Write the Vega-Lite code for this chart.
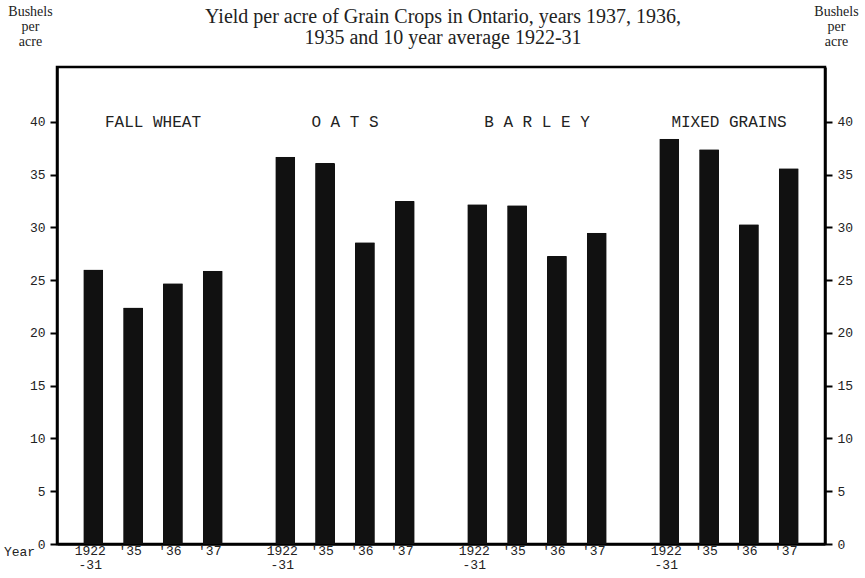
{
  "$schema": "https://vega.github.io/schema/vega-lite/v6.json",
  "width": 768,
  "height": 477,
  "autosize": "none",
  "padding": {"left": 57, "top": 67, "right": 40, "bottom": 34},
  "background": "white",
  "config": {
    "view": {"stroke": "black", "strokeWidth": 2.5},
    "axis": {"domainColor": "black", "domainWidth": 2.5, "tickColor": "black", "tickWidth": 2, "labelColor": "#222", "labelFont": "Liberation Mono", "labelFontSize": 13, "grid": false}
  },
  "title": {
    "text": ["Yield per acre of Grain Crops in Ontario, years 1937, 1936,", "1935 and 10 year average 1922-31"],
    "font": "Liberation Serif", "fontSize": 20, "fontWeight": "normal", "color": "#222",
    "anchor": "middle", "frame": "group", "offset": -44, "lineHeight": 21, "dx": 2
  },
  "datasets": {
    "bars": [
      {"crop": "Fall Wheat", "year": "1922-31", "label": "1922\n-31", "yield": 26.0},
      {"crop": "Fall Wheat", "year": "1935", "label": "'35", "yield": 22.4},
      {"crop": "Fall Wheat", "year": "1936", "label": "'36", "yield": 24.7},
      {"crop": "Fall Wheat", "year": "1937", "label": "'37", "yield": 25.9},
      {"crop": "Oats", "year": "1922-31", "label": "1922\n-31", "yield": 36.7},
      {"crop": "Oats", "year": "1935", "label": "'35", "yield": 36.1},
      {"crop": "Oats", "year": "1936", "label": "'36", "yield": 28.6},
      {"crop": "Oats", "year": "1937", "label": "'37", "yield": 32.5},
      {"crop": "Barley", "year": "1922-31", "label": "1922\n-31", "yield": 32.2},
      {"crop": "Barley", "year": "1935", "label": "'35", "yield": 32.1},
      {"crop": "Barley", "year": "1936", "label": "'36", "yield": 27.3},
      {"crop": "Barley", "year": "1937", "label": "'37", "yield": 29.5},
      {"crop": "Mixed Grains", "year": "1922-31", "label": "1922\n-31", "yield": 38.4},
      {"crop": "Mixed Grains", "year": "1935", "label": "'35", "yield": 37.4},
      {"crop": "Mixed Grains", "year": "1936", "label": "'36", "yield": 30.3},
      {"crop": "Mixed Grains", "year": "1937", "label": "'37", "yield": 35.6}
    ],
    "crops": [
      {"crop": "Fall Wheat", "label": "FALL WHEAT"},
      {"crop": "Oats", "label": "O A T S"},
      {"crop": "Barley", "label": "B A R L E Y"},
      {"crop": "Mixed Grains", "label": "MIXED GRAINS"}
    ]
  },
  "resolve": {"axis": {"y": "independent"}},
  "layer": [
    {
      "data": {"name": "bars"},
      "mark": {"type": "bar", "color": "#111", "cornerRadius": 1},
      "encoding": {
        "x": {
          "field": "crop", "type": "nominal",
          "sort": ["Fall Wheat", "Oats", "Barley", "Mixed Grains"],
          "scale": {"paddingInner": 0.17, "paddingOuter": 0.085},
          "axis": {"labels": false, "ticks": false, "title": "Year", "titleFont": "Liberation Mono", "titleFontSize": 13, "titleFontWeight": "normal", "titleColor": "#222", "titleX": -38, "titleY": 7, "titleAlign": "center", "titleBaseline": "middle"}
        },
        "xOffset": {
          "field": "year", "type": "nominal",
          "sort": ["1922-31", "1935", "1936", "1937"],
          "scale": {"paddingInner": 0.5, "paddingOuter": 0.25}
        },
        "y": {
          "field": "yield", "type": "quantitative",
          "scale": {"domain": [0, 45.2], "nice": false, "zero": true},
          "axis": {"orient": "left", "values": [0, 5, 10, 15, 20, 25, 30, 35, 40], "tickSize": 7, "labelPadding": 5,
            "title": ["Bushels", "per", "acre"], "titleAngle": 0, "titleFont": "Liberation Serif", "titleFontSize": 14, "titleFontWeight": "normal", "titleColor": "#222",
            "titleX": -27, "titleY": -63, "titleAlign": "center", "titleBaseline": "top", "titleLineHeight": 15}
        }
      }
    },
    {
      "data": {"name": "bars"},
      "mark": {"type": "text", "font": "Liberation Mono", "fontSize": 13, "color": "#222", "baseline": "top", "dy": 1, "dx": -3, "lineBreak": "\n", "lineHeight": 14},
      "encoding": {
        "x": {"field": "crop", "type": "nominal", "sort": ["Fall Wheat", "Oats", "Barley", "Mixed Grains"]},
        "xOffset": {"field": "year", "type": "nominal", "sort": ["1922-31", "1935", "1936", "1937"]},
        "y": {"datum": 0, "type": "quantitative", "axis": null},
        "text": {"field": "label"}
      }
    },
    {
      "data": {"name": "crops"},
      "mark": {"type": "text", "font": "Liberation Mono", "fontSize": 16, "color": "#222", "baseline": "middle"},
      "encoding": {
        "x": {"field": "crop", "type": "nominal", "sort": ["Fall Wheat", "Oats", "Barley", "Mixed Grains"]},
        "y": {"datum": 40, "type": "quantitative",
          "axis": {"orient": "right", "values": [0, 5, 10, 15, 20, 25, 30, 35, 40], "tickSize": 7, "labelPadding": 5,
            "title": ["Bushels", "per", "acre"], "titleAngle": 0, "titleFont": "Liberation Serif", "titleFontSize": 14, "titleFontWeight": "normal", "titleColor": "#222",
            "titleX": 11, "titleY": -63, "titleAlign": "center", "titleBaseline": "top", "titleLineHeight": 15}},
        "text": {"field": "label"}
      }
    }
  ]
}
